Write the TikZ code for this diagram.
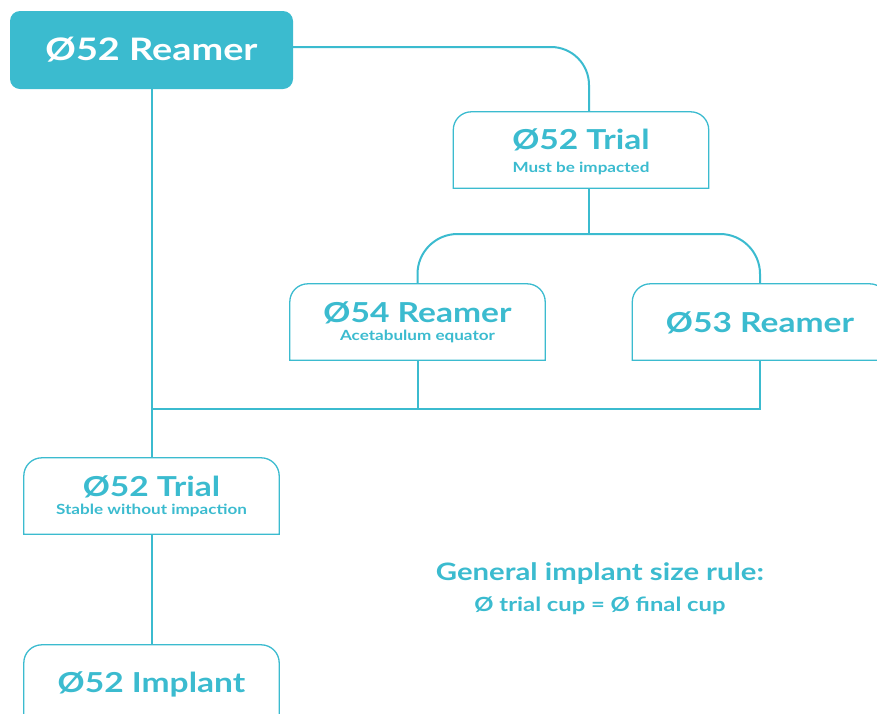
\documentclass[tikz,border=0pt]{standalone}
\usepackage{fontspec}
\setmainfont{Lato}[FakeStretch=1.22]
\definecolor{teal1}{RGB}{59,187,207}
\newcommand\headsz{\fontsize{31}{33}\selectfont}
\newcommand\titlesz{\fontsize{27.5}{30}\selectfont}
\newcommand\subsz{\fontsize{14}{16}\selectfont}
\newcommand\topbox[1]{%
  \draw[boxline] (#1.south west) -- ([yshift=-18pt]#1.north west)
    arc[start angle=180,end angle=90,radius=18pt]
    -- ([xshift=-18pt]#1.north east)
    arc[start angle=90,end angle=0,radius=18pt]
    -- (#1.south east) -- cycle;}
\begin{document}
\begin{tikzpicture}[x=1pt,y=-1pt,
  box/.style={minimum width=255pt,minimum height=76pt,inner sep=0pt},
  ttl/.style={text=teal1,font=\bfseries\titlesz,inner sep=0pt,anchor=base},
  sub/.style={text=teal1,font=\bfseries\subsz,inner sep=0pt,anchor=base},
  boxline/.style={draw=teal1,line width=1.3pt},
  conn/.style={draw=teal1,line width=2pt},
  rule/.style={text=teal1,font=\bfseries,inner sep=0pt}]
\clip (0,0) rectangle (877,713);
\node[minimum width=283pt,minimum height=78pt,inner sep=0pt,fill=teal1,rounded corners=10pt,text=white,font=\bfseries\headsz] (reamer) at (151.5,50) {Ø52 Reamer};
\node[box] (t1) at (581,150) {};
\node[box] (r54) at (417.5,322) {};
\node[box] (r53) at (760,322) {};
\node[box] (t2) at (151.5,496) {};
\node[box] (impl) at (151.5,683) {};
\topbox{t1}\topbox{r54}\topbox{r53}\topbox{t2}\topbox{impl}
\node[ttl] (t1a) at ([yshift=-38pt]t1.north) {Ø52 Trial};
\node[sub] (t1b) at ([yshift=-60.5pt]t1.north) {Must be impacted};
\node[ttl] (r54a) at ([yshift=-39pt]r54.north) {Ø54 Reamer};
\node[sub] (r54b) at ([yshift=-57pt]r54.north) {Acetabulum equator};
\node[ttl] (r53a) at ([yshift=-49pt]r53.north) {Ø53 Reamer};
\node[ttl] (t2a) at ([yshift=-39pt]t2.north) {Ø52 Trial};
\node[sub] (t2b) at ([yshift=-57pt]t2.north) {Stable without impaction};
\node[ttl] (impla) at ([yshift=-48pt]impl.north) {Ø52 Implant};
\node[rule,font=\bfseries\fontsize{24}{26}\selectfont,anchor=base] (rule1) at (600,580) {General implant size rule:};
\node[rule,font=\bfseries\fontsize{19.5}{21}\selectfont,anchor=base] (rule2) at (600,611) {Ø trial cup = Ø final cup};
% connectors
\draw[conn,rounded corners=38pt] ([yshift=3pt]reamer.east) -| ([xshift=8pt]t1.north);
\coordinate (split) at ([xshift=8pt]t1.south |- 0,234);
\draw[conn] ([xshift=8pt]t1.south) -- (split);
\draw[conn,rounded corners=40pt] (r54.north) |- (split);
\draw[conn,rounded corners=40pt] (r53.north) |- (split);
\coordinate (bus) at (reamer.south |- 0,409);
\draw[conn] (r53.south) |- (bus);
\draw[conn] (r54.south) -- (r54.south |- bus);
\draw[conn] (reamer.south) -- (t2.north);
\draw[conn] (t2.south) -- (impl.north);
\end{tikzpicture}
\end{document}
